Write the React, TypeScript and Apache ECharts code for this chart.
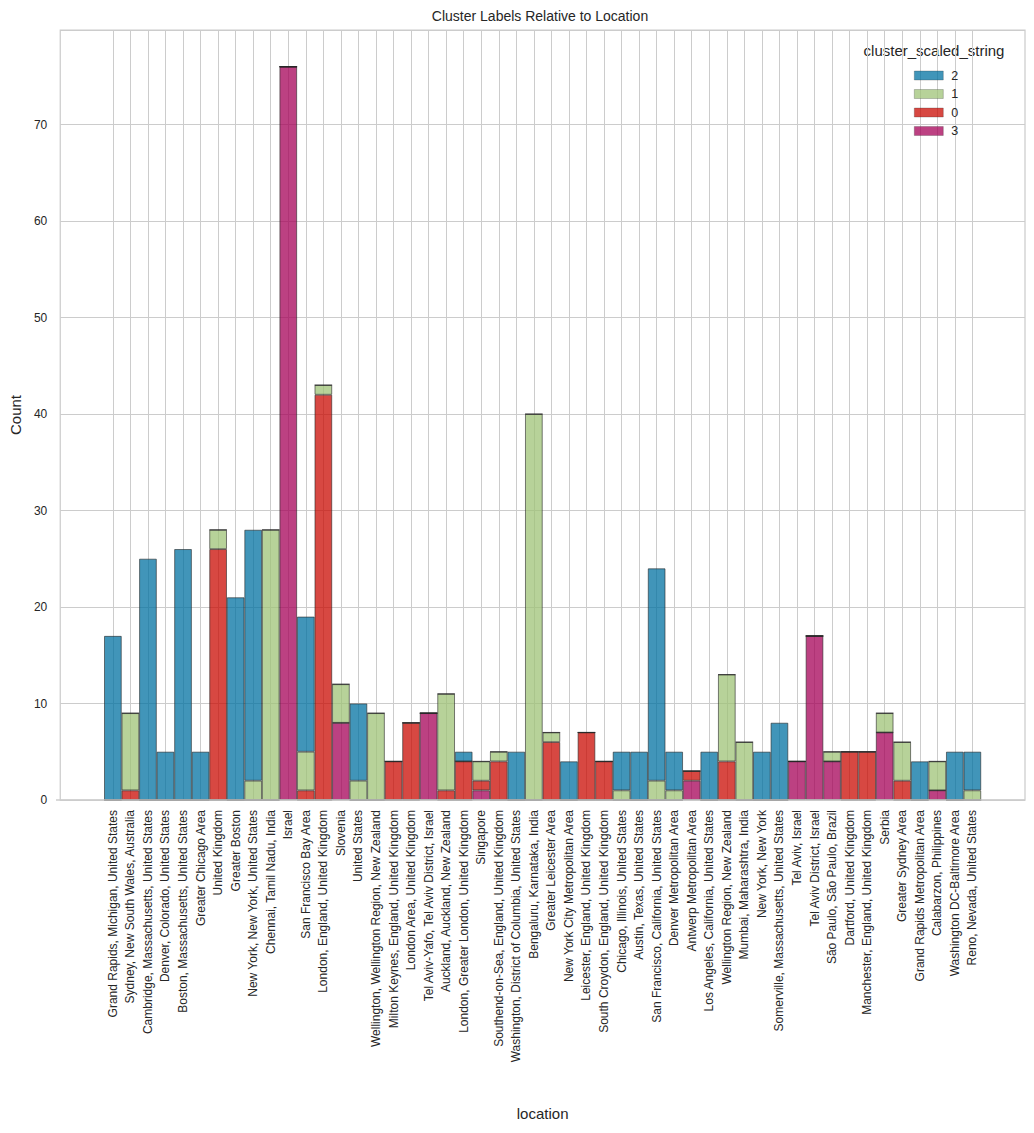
import React, { useEffect, useRef } from "react";
import * as echarts from "echarts";

const locations = [
  "Grand Rapids, Michigan, United States",
  "Sydney, New South Wales, Australia",
  "Cambridge, Massachusetts, United States",
  "Denver, Colorado, United States",
  "Boston, Massachusetts, United States",
  "Greater Chicago Area",
  "United Kingdom",
  "Greater Boston",
  "New York, New York, United States",
  "Chennai, Tamil Nadu, India",
  "Israel",
  "San Francisco Bay Area",
  "London, England, United Kingdom",
  "Slovenia",
  "United States",
  "Wellington, Wellington Region, New Zealand",
  "Milton Keynes, England, United Kingdom",
  "London Area, United Kingdom",
  "Tel Aviv-Yafo, Tel Aviv District, Israel",
  "Auckland, Auckland, New Zealand",
  "London, Greater London, United Kingdom",
  "Singapore",
  "Southend-on-Sea, England, United Kingdom",
  "Washington, District of Columbia, United States",
  "Bengaluru, Karnataka, India",
  "Greater Leicester Area",
  "New York City Metropolitan Area",
  "Leicester, England, United Kingdom",
  "South Croydon, England, United Kingdom",
  "Chicago, Illinois, United States",
  "Austin, Texas, United States",
  "San Francisco, California, United States",
  "Denver Metropolitan Area",
  "Antwerp Metropolitan Area",
  "Los Angeles, California, United States",
  "Wellington Region, New Zealand",
  "Mumbai, Maharashtra, India",
  "New York, New York",
  "Somerville, Massachusetts, United States",
  "Tel Aviv, Israel",
  "Tel Aviv District, Israel",
  "São Paulo, São Paulo, Brazil",
  "Dartford, United Kingdom",
  "Manchester, England, United Kingdom",
  "Serbia",
  "Greater Sydney Area",
  "Grand Rapids Metropolitan Area",
  "Calabarzon, Philippines",
  "Washington DC-Baltimore Area",
  "Reno, Nevada, United States",
];

// counts per cluster, in location order
const cluster2 = [17, 0, 25, 5, 26, 5, 0, 21, 26, 0, 0, 14, 0, 0, 8, 0, 0, 0, 0, 0, 1, 0, 0, 5, 0, 0, 4, 0, 0, 4, 5, 22, 4, 0, 5, 0, 0, 5, 8, 0, 0, 0, 0, 0, 0, 0, 4, 0, 5, 4];
const cluster1 = [0, 8, 0, 0, 0, 0, 2, 0, 2, 28, 0, 4, 1, 4, 2, 9, 0, 0, 0, 10, 0, 2, 1, 0, 40, 1, 0, 0, 0, 1, 0, 2, 1, 0, 0, 9, 6, 0, 0, 0, 0, 1, 0, 0, 2, 4, 0, 3, 0, 1];
const cluster0 = [0, 1, 0, 0, 0, 0, 26, 0, 0, 0, 0, 1, 42, 0, 0, 0, 4, 8, 0, 1, 4, 1, 4, 0, 0, 6, 0, 7, 4, 0, 0, 0, 0, 1, 0, 4, 0, 0, 0, 0, 0, 0, 5, 5, 0, 2, 0, 0, 0, 0];
const cluster3 = [0, 0, 0, 0, 0, 0, 0, 0, 0, 0, 76, 0, 0, 8, 0, 0, 0, 0, 9, 0, 0, 1, 0, 0, 0, 0, 0, 0, 0, 0, 0, 0, 0, 2, 0, 0, 0, 0, 0, 4, 17, 4, 0, 0, 7, 0, 0, 1, 0, 0];

const legendOrder = ["2", "1", "0", "3"];
const yTicks = [0, 10, 20, 30, 40, 50, 60, 70];

const PAD = 3;
const padNames = (p: string) => Array.from({ length: PAD }, (_, i) => `__pad_${p}${i}`);
const axisCats = [...padNames("a"), ...locations, ...padNames("b")];
const padData = (arr: number[]) => [
  ...Array(PAD).fill(null),
  ...arr,
  ...Array(PAD).fill(null),
];

const colors: Record<string, string> = {
  "2": "#0272a2",
  "1": "#9fc377",
  "0": "#ca0b03",
  "3": "#a50258",
};

const FONT = "'Liberation Sans', Arial, Helvetica, sans-serif";
const TXT = "#262626";

const W = 1034;
const H = 1133;
const G = { left: 56, right: 9, top: 30, bottom: 333 };

export default function App() {
  const ref = useRef<HTMLDivElement>(null);
  useEffect(() => {
    if (!ref.current) return;
    const chart = echarts.init(ref.current, null, { renderer: "svg" });
    const mk = (name: string, data: number[]) => ({
      name,
      type: "bar",
      stack: "all",
      data: padData(data),
      barWidth: "100%",
      barGap: "-100%",
      itemStyle: {
        color: colors[name],
        opacity: 0.75,
        borderColor: "#262626",
        borderWidth: 0.8,
      },
      emphasis: { disabled: true },
    });
    chart.setOption({
      animation: false,
      textStyle: { fontFamily: FONT },
      grid: {
        ...G,
        show: true,
        borderColor: "#cccccc",
        borderWidth: 1.25,
        backgroundColor: "#ffffff",
        containLabel: false,
      },
      graphic: [
        {
          type: "text",
          x: 540,
          y: 16,
          style: {
            text: "Cluster Labels Relative to Location",
            textAlign: "center",
            textVerticalAlign: "middle",
            fontSize: 14,
            fontFamily: FONT,
            fill: TXT,
          },
        },
        {
          type: "text",
          x: 934,
          y: 50,
          style: {
            text: "cluster_scaled_string",
            textAlign: "center",
            textVerticalAlign: "middle",
            fontSize: 15,
            fontFamily: FONT,
            fill: TXT,
          },
        },
        {
          type: "line",
          z: 100,
          shape: { x1: G.left, y1: H - G.bottom, x2: W - G.right, y2: H - G.bottom },
          style: { stroke: "#cccccc", lineWidth: 1.4 },
        },
      ],
      legend: {
        data: legendOrder,
        orient: "vertical",
        left: 909,
        top: 64,
        itemWidth: 29,
        itemHeight: 9,
        itemGap: 5.5,
        icon: "rect",
        itemStyle: { borderWidth: 0.6, borderColor: "rgba(38,38,38,0.55)", opacity: 0.75 },
        textStyle: { fontSize: 12.5, color: TXT, fontFamily: FONT, padding: [0, 0, 0, 3] },
        selectedMode: false,
      },
      xAxis: {
        type: "category",
        data: axisCats,
        boundaryGap: false,
        name: "location",
        nameLocation: "middle",
        nameGap: 306,
        nameTextStyle: { fontSize: 15, color: TXT, fontFamily: FONT },
        axisLine: { show: false },
        axisTick: { show: false },
        axisLabel: {
          interval: 0,
          rotate: 90,
          margin: 10,
          fontSize: 12,
          color: TXT,
          fontFamily: FONT,
          formatter: (v: string) => (v.startsWith("__pad_") ? "" : v),
        },
        splitLine: {
          show: true,
          interval: (_i: number, v: string) => !v.startsWith("__pad_"),
          lineStyle: { color: "#cccccc", width: 1 },
        },
      },
      yAxis: {
        type: "value",
        min: 0,
        max: 79.8,
        interval: 10,
        name: "Count",
        nameLocation: "middle",
        nameGap: 32,
        nameTextStyle: { fontSize: 15, color: TXT, fontFamily: FONT },
        axisLine: { show: false },
        axisTick: { show: false },
        axisLabel: {
          margin: 13,
          fontSize: 12,
          color: TXT,
          fontFamily: FONT,
          formatter: (v: number) => (yTicks.includes(v) ? String(v) : ""),
        },
        splitLine: { show: true, lineStyle: { color: "#cccccc", width: 1 } },
      },
      series: [
        mk("3", cluster3),
        mk("0", cluster0),
        mk("1", cluster1),
        mk("2", cluster2),
      ],
    });
    return () => chart.dispose();
  }, []);
  return (
    <div
      ref={ref}
      style={{ position: "absolute", left: 0, top: 0, width: W, height: H, background: "#fff" }}
    />
  );
}
